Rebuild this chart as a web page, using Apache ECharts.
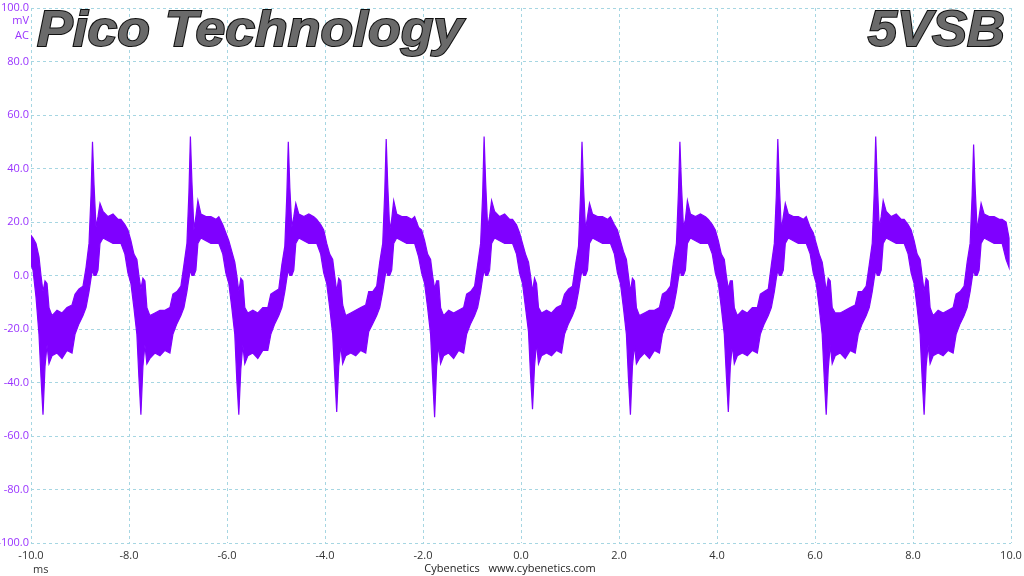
<!DOCTYPE html>
<html>
<head>
<meta charset="utf-8">
<script src="https://cdn.jsdelivr.net/npm/echarts@6/dist/echarts.min.js"></script>
<style>
html,body{margin:0;padding:0;background:#fff;}
#chart{width:1024px;height:576px;}
</style>
</head>
<body>
<div id="chart"></div>
<script>
// ---- Data ----
var xTickLabels = ['-10.0','-8.0','-6.0','-4.0','-2.0','0.0','2.0','4.0','6.0','8.0','10.0'];
var yTickLabels = ['-100.0','-80.0','-60.0','-40.0','-20.0','0.0','20.0','40.0','60.0','80.0','100.0'];

// time (ms) of each envelope sample
var timeMs = [
 -10.000,
 -9.959,-9.898,-9.837,-9.796,-9.755,-9.714,-9.673,-9.633,-9.571,-9.469,-9.367,-9.265,-9.163,-9.102,-9.020,-8.939,-8.877,-8.816,-8.775,-8.745,-8.714,-8.673,-8.633,-8.592,-8.531,-8.428,-8.326,-8.224,
 -8.165,-8.084,-8.022,-7.961,-7.900,-7.839,-7.798,-7.757,-7.716,-7.675,-7.635,-7.573,-7.471,-7.369,-7.267,-7.165,-7.104,-7.022,-6.941,-6.879,-6.818,-6.777,-6.747,-6.716,-6.675,-6.635,-6.594,-6.533,-6.430,-6.328,-6.226,
 -6.167,-6.086,-6.024,-5.963,-5.902,-5.841,-5.800,-5.759,-5.718,-5.677,-5.637,-5.575,-5.473,-5.371,-5.269,-5.167,-5.106,-5.024,-4.943,-4.881,-4.820,-4.779,-4.749,-4.718,-4.677,-4.637,-4.596,-4.535,-4.432,-4.330,-4.228,
 -4.169,-4.088,-4.026,-3.965,-3.904,-3.843,-3.802,-3.761,-3.720,-3.679,-3.639,-3.577,-3.475,-3.373,-3.271,-3.169,-3.108,-3.026,-2.945,-2.883,-2.822,-2.781,-2.751,-2.720,-2.679,-2.639,-2.598,-2.537,-2.434,-2.332,-2.230,
 -2.171,-2.090,-2.028,-1.967,-1.906,-1.845,-1.804,-1.763,-1.722,-1.681,-1.641,-1.579,-1.477,-1.375,-1.273,-1.171,-1.110,-1.028,-0.947,-0.885,-0.824,-0.783,-0.753,-0.722,-0.681,-0.641,-0.600,-0.539,-0.436,-0.334,-0.232,
 -0.173,-0.092,-0.030,0.031,0.092,0.153,0.194,0.235,0.276,0.317,0.357,0.419,0.521,0.623,0.725,0.827,0.888,0.970,1.051,1.113,1.174,1.215,1.245,1.276,1.317,1.357,1.398,1.459,1.562,1.664,1.766,
 1.825,1.906,1.968,2.029,2.090,2.151,2.192,2.233,2.274,2.315,2.355,2.417,2.519,2.621,2.723,2.825,2.886,2.968,3.049,3.111,3.172,3.213,3.243,3.274,3.315,3.355,3.396,3.457,3.560,3.662,3.764,
 3.823,3.904,3.966,4.027,4.088,4.149,4.190,4.231,4.272,4.313,4.353,4.415,4.517,4.619,4.721,4.823,4.884,4.966,5.047,5.109,5.170,5.211,5.241,5.272,5.313,5.353,5.394,5.455,5.558,5.660,5.762,
 5.821,5.902,5.964,6.025,6.086,6.147,6.188,6.229,6.270,6.311,6.351,6.413,6.515,6.617,6.719,6.821,6.882,6.964,7.045,7.107,7.168,7.209,7.239,7.270,7.311,7.351,7.392,7.453,7.556,7.658,7.760,
 7.819,7.900,7.962,8.023,8.084,8.145,8.186,8.227,8.268,8.309,8.349,8.411,8.513,8.615,8.717,8.819,8.880,8.962,9.043,9.105,9.166,9.207,9.237,9.268,9.309,9.349,9.390,9.451,9.554,9.656,9.758,
 9.819,9.900,9.960
];
// upper edge of the noisy trace (mV)
var upperMv = [
 15,
 14,12,7,0,-6,-2,-3,-12,-15,-13,-14,-12,-11,-7,-5,-4,3,12,30,50,34,18,22,27,24,22,23,21,
 21,19,17,13,8,6,0,-5,-1,-2,-12,-15,-14,-13,-13,-12,-7,-6,-4,4,12,31,52,35,17,22,28,23,22,22,21,
 22,19,16,13,9,5,0,-6,-1,-2,-12,-14,-13,-14,-12,-12,-7,-6,-5,4,11,30,50,33,18,22,27,23,22,23,22,
 21,19,17,12,8,6,0,-6,-1,-2,-11,-15,-14,-13,-12,-11,-6,-6,-4,5,12,31,51,34,17,21,28,23,22,22,21,
 22,18,17,13,8,6,0,-5,-2,-2,-12,-15,-13,-14,-13,-12,-7,-6,-4,4,12,30,52,35,18,22,28,24,22,23,21,
 21,19,16,12,8,5,0,-6,-1,-3,-12,-14,-13,-14,-12,-11,-7,-5,-4,4,11,30,50,33,17,22,27,23,22,22,21,
 22,19,17,13,9,6,0,-6,-1,-2,-12,-15,-14,-13,-13,-12,-7,-6,-4,5,12,31,50,34,18,21,28,23,22,23,22,
 21,19,17,13,8,6,0,-5,-2,-2,-12,-15,-13,-14,-12,-12,-7,-6,-5,4,12,30,51,34,17,22,27,23,22,22,21,
 22,18,16,12,8,5,0,-6,-1,-2,-12,-14,-14,-13,-12,-11,-6,-6,-4,4,12,31,52,35,18,22,28,24,22,23,21,
 21,19,17,13,8,6,0,-6,-1,-2,-12,-15,-13,-14,-13,-12,-7,-6,-4,5,12,30,49,33,17,22,27,23,22,22,21,
 21,20,14
];
// lower edge of the noisy trace (mV)
var lowerMv = [
 4,
 2,-8,-22,-38,-52,-34,-26,-33,-30,-29,-31,-28,-29,-22,-18,-15,-12,-6,-1,2,0,0,2,12,14,13,12,12,
 12,8,1,-3,-12,-22,-38,-52,-34,-26,-33,-31,-29,-30,-28,-29,-22,-18,-15,-12,-6,-1,2,0,0,2,12,14,13,12,12,
 12,8,1,-3,-12,-22,-39,-52,-35,-26,-33,-30,-29,-31,-28,-28,-22,-18,-15,-12,-6,-1,2,0,0,2,12,14,13,12,12,
 12,8,1,-3,-12,-22,-37,-51,-34,-26,-33,-30,-29,-30,-28,-29,-21,-18,-15,-12,-6,-1,2,0,0,2,12,14,13,12,12,
 12,7,1,-3,-12,-22,-38,-53,-34,-26,-33,-30,-29,-31,-28,-29,-22,-18,-15,-12,-6,-1,2,0,0,2,12,14,13,12,12,
 12,8,1,-3,-12,-21,-37,-50,-34,-25,-33,-30,-29,-30,-28,-29,-22,-18,-15,-12,-6,-1,2,0,0,2,12,14,13,12,12,
 12,8,1,-3,-12,-22,-38,-52,-34,-26,-33,-31,-29,-31,-28,-29,-22,-18,-15,-12,-6,-1,2,0,0,2,12,14,13,12,12,
 12,8,1,-3,-12,-22,-37,-51,-34,-26,-33,-30,-29,-30,-28,-29,-22,-18,-15,-12,-6,-1,2,0,0,2,12,14,13,12,12,
 12,8,1,-3,-12,-22,-38,-52,-35,-26,-33,-30,-29,-31,-28,-29,-22,-18,-15,-12,-6,-1,2,0,0,2,12,14,13,12,12,
 12,8,1,-3,-12,-22,-38,-52,-34,-26,-33,-30,-29,-30,-28,-29,-22,-18,-15,-12,-6,-1,2,0,0,2,12,14,13,12,12,
 12,6,3
];

// ---- Chart ----
var chart = echarts.init(document.getElementById('chart'), null, {renderer: 'canvas'});
var traceColor = '#7f00ff';
var gridColor = '#a6d6e2';
var labelFont = '"Open Sans", "Noto Sans", sans-serif';

var envelope = timeMs.map(function (t, i) { return [t, upperMv[i], lowerMv[i]]; });

function fmtTick(list, v) {
  var s = (Math.round(v * 10) / 10).toFixed(1);
  return list.indexOf(s) >= 0 ? s : '';
}

function titleStyle(text, align) {
  return {
    text: text, align: align, verticalAlign: 'top',
    font: 'italic bold 50px Liberation Sans',
    fill: '#6a6a6a',
    stroke: '#101010', lineWidth: 2,
    shadowColor: 'rgba(0,0,0,0.35)', shadowBlur: 2, shadowOffsetX: 1, shadowOffsetY: 1
  };
}

var option = {
  animation: false,
  backgroundColor: '#ffffff',
  grid: {left: 31, right: 13, top: 8, bottom: 33, containLabel: false, outerBoundsMode: 'none'},
  xAxis: {
    type: 'value', min: -10, max: 10, interval: 2,
    axisLine: {show: false}, axisTick: {show: false},
    axisLabel: {
      color: '#333333', fontSize: 11, fontFamily: labelFont, margin: 7,
      formatter: function (v) { return fmtTick(xTickLabels, v); }
    },
    splitLine: {show: true, lineStyle: {color: gridColor, type: [3, 3], width: 1}}
  },
  yAxis: {
    type: 'value', min: -100, max: 100, interval: 20,
    axisLine: {show: false}, axisTick: {show: false},
    axisLabel: {
      color: '#9933ff', fontSize: 11, fontFamily: labelFont, margin: 2,
      formatter: function (v) { return fmtTick(yTickLabels, v); }
    },
    splitLine: {show: true, lineStyle: {color: gridColor, type: [3, 3], width: 1}}
  },
  series: [{
    type: 'custom',
    clip: true,
    data: envelope,
    encode: {x: 0, y: [1, 2]},
    renderItem: function (params, api) {
      if (params.dataIndex !== 0) return null;
      var pts = [];
      for (var i = 0; i < envelope.length; i++) {
        pts.push(api.coord([envelope[i][0], envelope[i][1]]));
      }
      for (var j = envelope.length - 1; j >= 0; j--) {
        pts.push(api.coord([envelope[j][0], envelope[j][2]]));
      }
      return {
        type: 'polygon',
        shape: {points: pts},
        style: {fill: traceColor, stroke: traceColor, lineWidth: 1.2}
      };
    }
  }],
  graphic: [
    {type: 'text', x: 29, y: 21, style: {text: 'mV', fill: '#9933ff', fontSize: 11, fontFamily: labelFont, align: 'right', verticalAlign: 'middle'}},
    {type: 'text', x: 29, y: 36, style: {text: 'AC', fill: '#9933ff', fontSize: 11, fontFamily: labelFont, align: 'right', verticalAlign: 'middle'}},
    {type: 'text', x: 33, y: 570, style: {text: 'ms', fill: '#333333', fontSize: 11, fontFamily: labelFont, align: 'left', verticalAlign: 'middle'}},
    {type: 'text', x: 510, y: 569, style: {text: 'Cybenetics   www.cybenetics.com', fill: '#222222', fontSize: 11, fontFamily: labelFont, align: 'center', verticalAlign: 'middle'}},
    {type: 'text', x: 37, y: 7, scaleX: 1.07, z: 100, style: titleStyle('Pico Technology', 'left')},
    {type: 'text', x: 1005, y: 7, scaleX: 1.05, z: 100, style: titleStyle('5VSB', 'right')}
  ]
};
chart.setOption(option);
</script>
</body>
</html>
